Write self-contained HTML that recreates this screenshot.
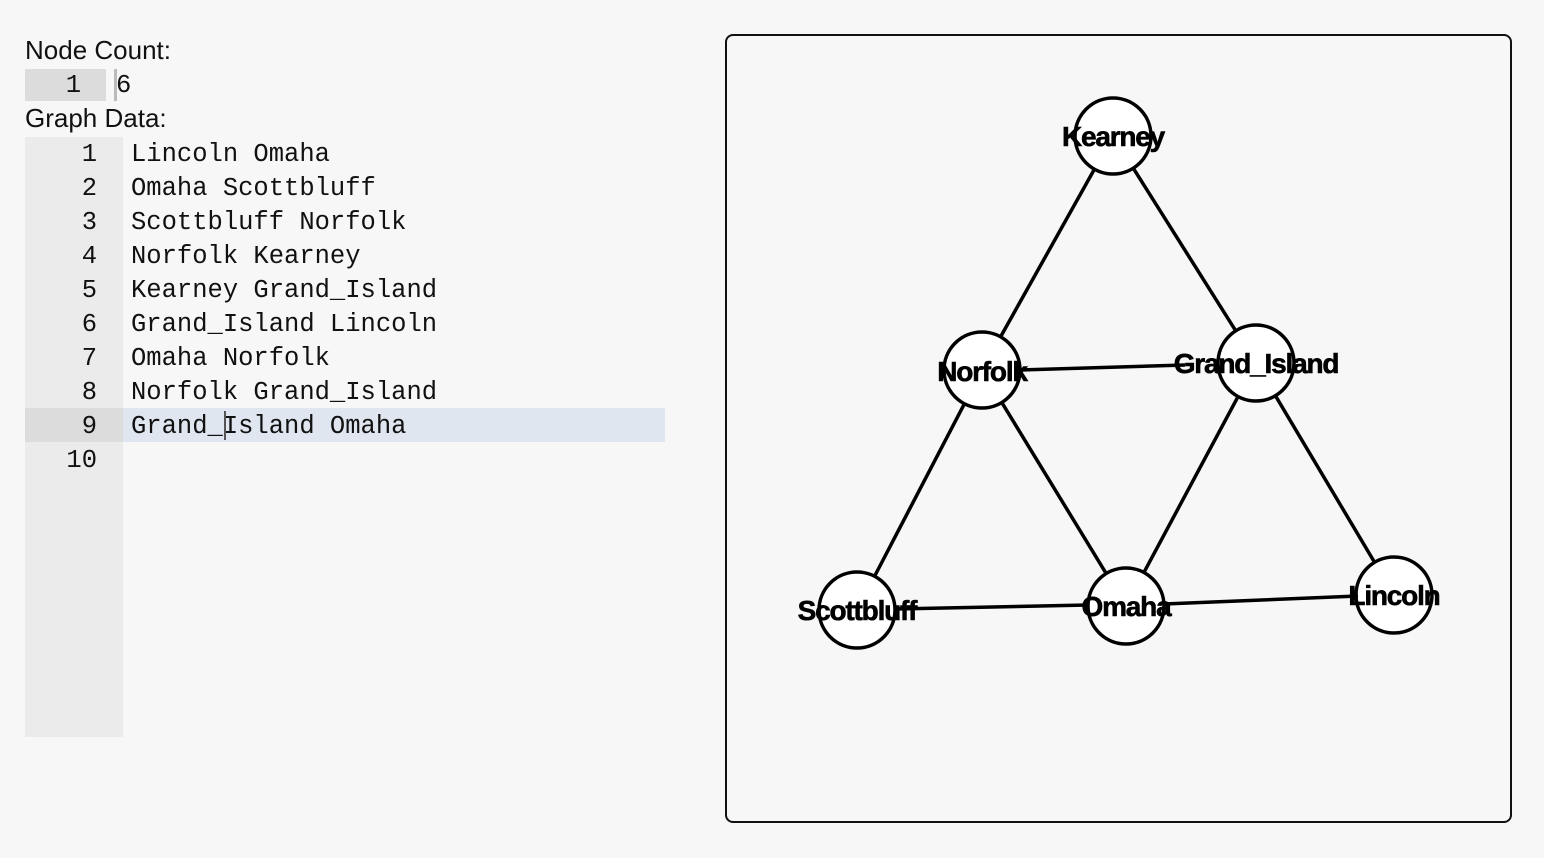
<!DOCTYPE html>
<html><head><style>
body{margin:0;width:1544px;height:858px;background:#f7f7f7;position:relative;overflow:hidden;font-family:"Liberation Sans",sans-serif;}
.lbl{position:absolute;left:25px;font-size:26px;color:#111;}
.mono{font-family:"Liberation Mono",monospace;font-size:25.5px;color:#111;}
</style></head><body>
<div class="lbl" style="top:35px">Node Count:</div>
<div style="position:absolute;left:25px;top:69px;width:81px;height:32px;background:#dcdcdc"></div>
<div class="mono" style="position:absolute;left:25px;top:70px;width:56px;line-height:32px;text-align:right">1</div>
<div style="position:absolute;left:114px;top:69px;width:3px;height:32px;background:#bbb"></div>
<div class="mono" style="position:absolute;left:116px;top:70px;line-height:32px">6</div>
<div class="lbl" style="top:103px">Graph Data:</div>
<div style="position:absolute;left:25px;top:137px;width:98px;height:600px;background:#ebebeb"></div>
<div style="position:absolute;left:123px;top:408px;width:542px;height:34px;background:#dfe6ef"></div>
<div style="position:absolute;left:25px;top:408px;width:98px;height:34px;background:#dcdcdc"></div>
<div class="mono" style="position:absolute;left:25px;top:138px;width:72px;text-align:right;line-height:34px">1<br>2<br>3<br>4<br>5<br>6<br>7<br>8<br>9<br>10</div>
<div class="mono" style="position:absolute;left:131px;top:138px;line-height:34px;white-space:pre">Lincoln Omaha
Omaha Scottbluff
Scottbluff Norfolk
Norfolk Kearney
Kearney Grand_Island
Grand_Island Lincoln
Omaha Norfolk
Norfolk Grand_Island
Grand_Island Omaha</div>
<div style="position:absolute;left:224px;top:411px;width:2px;height:29px;background:#555"></div>
<div style="position:absolute;left:725px;top:34px;width:783px;height:785px;border:2px solid #111;border-radius:8px;box-sizing:content-box"></div>
<svg width="1544" height="858" style="position:absolute;left:0;top:0">
<g stroke="#000" stroke-width="3.5">
<line x1="1113" y1="136" x2="982" y2="370"/>
<line x1="1113" y1="136" x2="1256" y2="363"/>
<line x1="982" y1="370" x2="857" y2="610"/>
<line x1="982" y1="370" x2="1126" y2="606"/>
<line x1="1256" y1="363" x2="1126" y2="606"/>
<line x1="1256" y1="363" x2="1394" y2="595"/>
</g>
<g fill="#fff" stroke="#000" stroke-width="3.5">
<circle cx="1113" cy="136" r="38"/>
<circle cx="982" cy="370" r="38"/>
<circle cx="1256" cy="363" r="38"/>
<circle cx="857" cy="610" r="38"/>
<circle cx="1126" cy="606" r="38"/>
<circle cx="1394" cy="595" r="38"/>
</g>
<g stroke="#000" stroke-width="3.5">
<line x1="1020" y1="370" x2="1185" y2="365"/>
<line x1="895" y1="609" x2="1088" y2="605"/>
<line x1="1164" y1="604" x2="1358" y2="596"/>
</g>
<g font-family="Liberation Sans,sans-serif" font-weight="bold" font-size="28" text-anchor="middle" letter-spacing="-1.2" fill="#000" stroke="#000" stroke-width="0.6">
<text x="1113" y="146">Kearney</text>
<text x="982" y="381">Norfolk</text>
<text x="1256" y="373">Grand_Island</text>
<text x="857" y="620">Scottbluff</text>
<text x="1126" y="616">Omaha</text>
<text x="1394" y="605">Lincoln</text>
</g>
</svg>
</body></html>
